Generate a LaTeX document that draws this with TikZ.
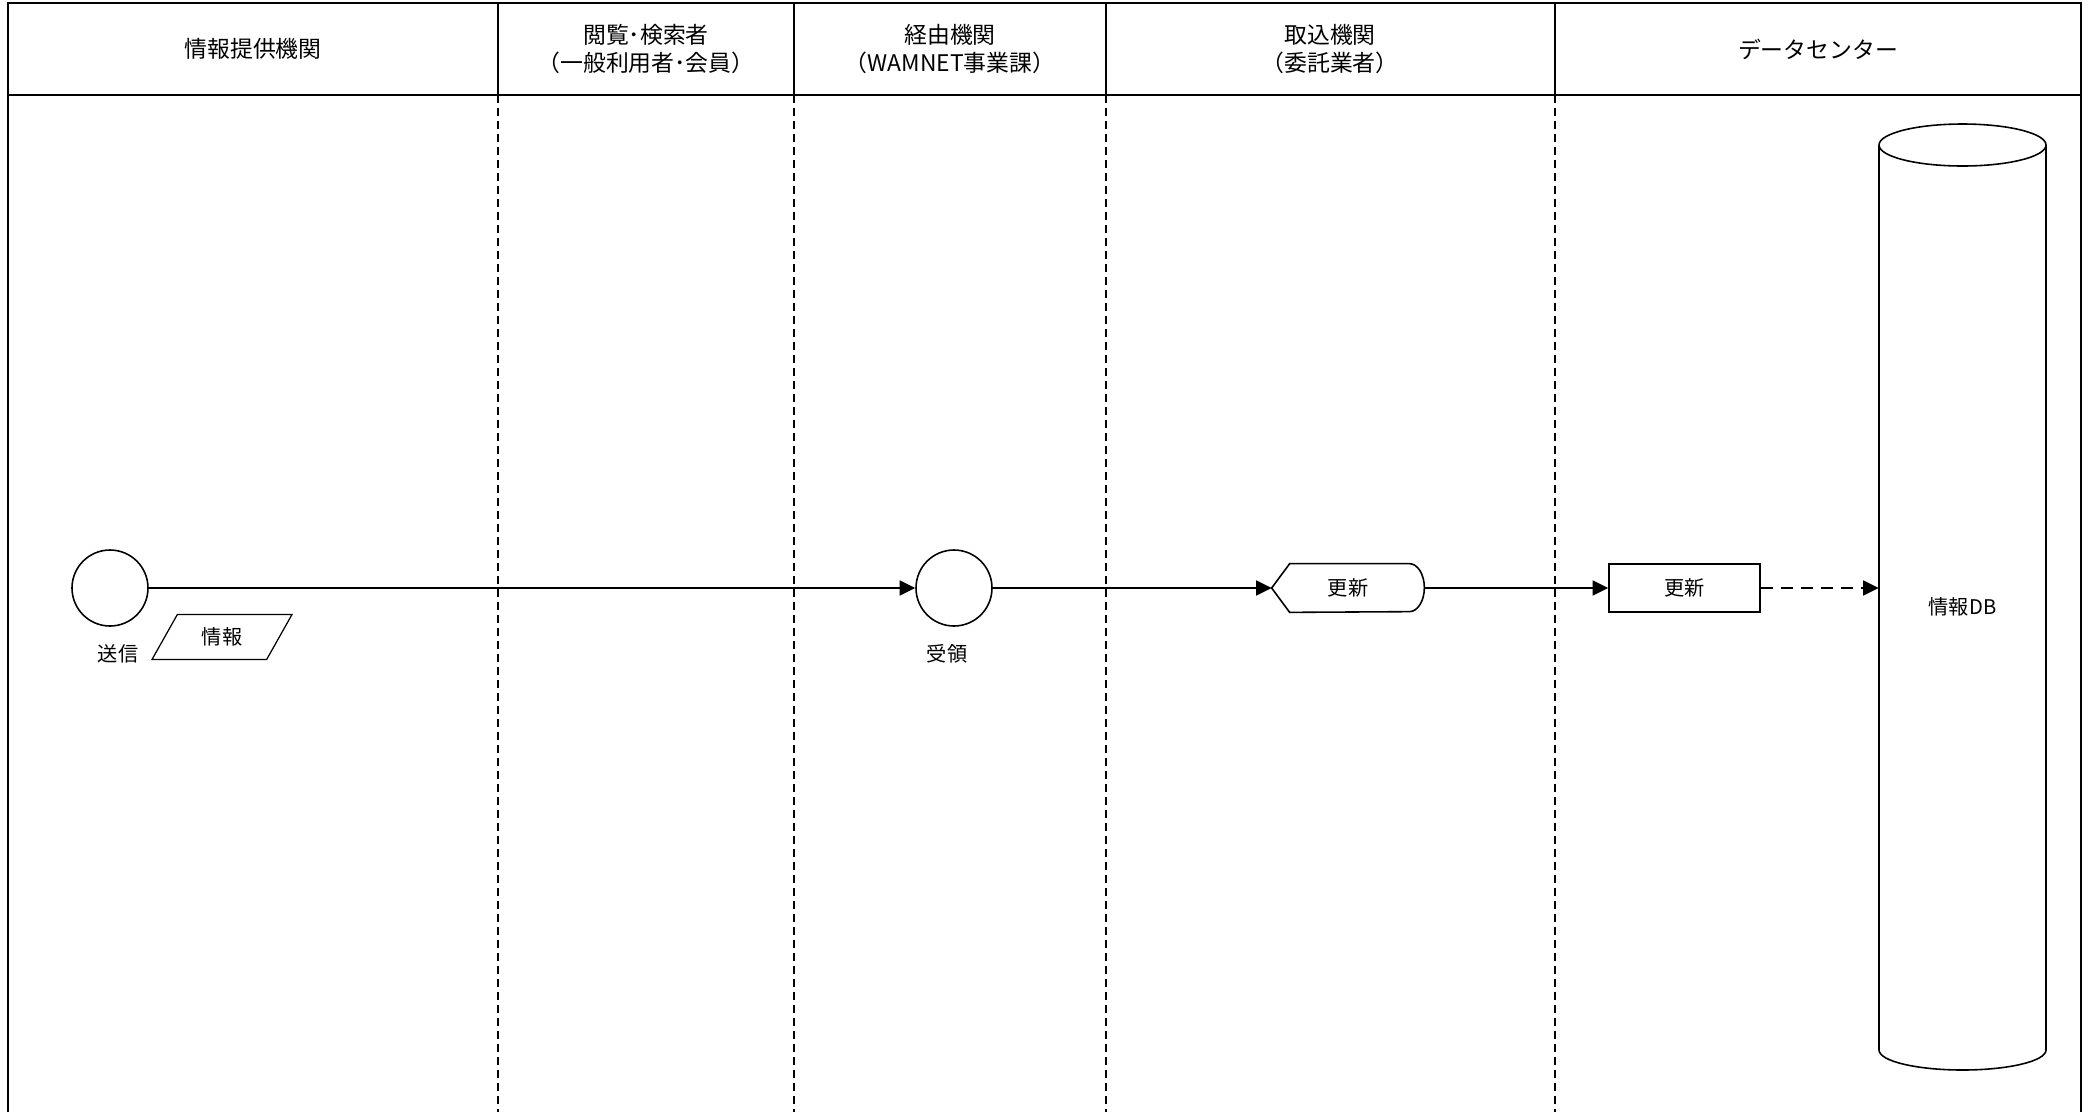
\documentclass[tikz,border=0pt]{standalone}
\usepackage{fontspec}
\setmainfont{Noto Sans CJK JP}
\usetikzlibrary{arrows.meta,positioning,shapes.geometric,calc}
\tikzset{
  >={Triangle[length=3.1mm,width=3mm]},
  lane/.style={line width=0.8pt},
  lane sep/.style={line width=0.7pt,dash pattern=on 1.6mm off 1mm},
  lanehead/.style={font=\fontsize{13}{16}\selectfont,align=center},
  tag/.style={font=\fontsize{11.5}{14}\selectfont},
  event/.style={circle,draw,line width=0.9pt,minimum size=15.2mm,inner sep=0pt},
  task/.style={tag,draw,line width=0.9pt,minimum width=30.2mm,minimum height=9.6mm},
  info box/.style={tag,trapezium,trapezium left angle=64,trapezium right angle=116,
    trapezium stretches=true,draw,line width=0.7pt,minimum width=28mm,minimum height=9mm},
  flow/.style={->,line width=0.9pt},
  flow/.default=black,
}
\begin{document}
\begin{tikzpicture}[x=0.2mm,y=-0.2mm]
  \useasboundingbox (0,0) rectangle (2089,1112);
  % frame and lanes
  \draw[lane] (8,1112) -- (8,3) -- (2081,3) -- (2081,1112);
  \draw[lane] (8,95) -- (2081,95);
  \foreach \x in {498,794,1106,1555} {
    \draw[lane] (\x,3) -- (\x,95);
    \draw[lane sep] (\x,95) -- (\x,1112);
  }
  \node[lanehead] (h1) at (253,49) {情報提供機関};
  \node[lanehead] (h2) at (646,49) {閲覧･検索者\\（一般利用者･会員）};
  \node[lanehead] (h3) at (950,49) {経由機関\\（WAMNET事業課）};
  \node[lanehead] (h4) at (1330,49) {取込機関\\（委託業者）};
  \node[lanehead] (h5) at (1818,49) {データセンター};

  % events
  \node[event] (send) at (110,588) {};
  \node[tag] (sendlbl) at (118,654) {送信};
  \node[info box] (info) at (222,637) {情報};
  \node[event] (recv) at (954,588) {};
  \node[tag] (recvlbl) at (947,654) {受領};

  % display step
  \node[tag,minimum width=30.4mm,minimum height=9.6mm] (upd1) at (1348,588) {更新};
  \draw[line width=0.9pt] (upd1.west) -- ([xshift=3.6mm]upd1.north west)
    -- ([xshift=-3mm]upd1.north east) arc[start angle=90,end angle=-90,x radius=3mm,y radius=4.8mm]
    -- ([xshift=3.6mm]upd1.south west) -- cycle;
  \node[task] (upd2) at (1684.5,588) {更新};

  % database
  \draw[line width=0.9pt] (1879,145) -- (1879,1050)
    arc[start angle=180,end angle=360,x radius=16.7mm,y radius=4mm] -- (2046,145);
  \draw[line width=0.9pt] (1962.5,145) ellipse[x radius=16.7mm,y radius=4.2mm];
  \node[tag,minimum width=33.4mm] (db) at (1962.5,607) {情報DB};

  \draw[flow] (send) -- (recv);
  \draw[flow] (recv) -- (upd1.west);
  \draw[flow] (upd1.east) -- (upd2);
  \draw[flow,dash pattern=on 2.4mm off 1.6mm] (upd2) -- (upd2 -| db.west);
\end{tikzpicture}
\end{document}
